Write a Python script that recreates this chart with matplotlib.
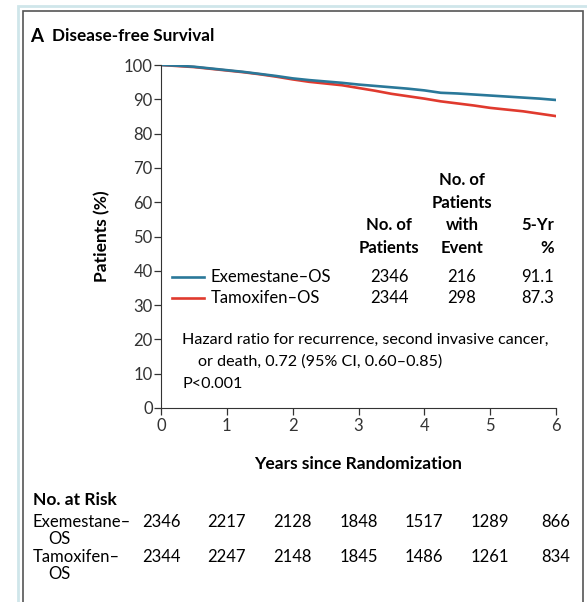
import matplotlib
matplotlib.use('Agg')
import matplotlib.pyplot as plt
from matplotlib.patches import Rectangle

# survival curves
years = [0, 0.25, 0.5, 0.75, 1.0, 1.25, 1.5, 1.75, 2.0, 2.25, 2.5, 2.75, 3.0,
         3.25, 3.5, 3.75, 4.0, 4.25, 4.5, 4.75, 5.0, 5.25, 5.5, 5.75, 6.0]
exemestane = [100, 99.8, 99.5, 99.0, 98.5, 98.0, 97.4, 96.8, 96.1, 95.6, 95.2, 94.8, 94.3,
              93.9, 93.5, 93.1, 92.6, 91.9, 91.7, 91.4, 91.1, 90.8, 90.5, 90.2, 89.8]
tamoxifen = [100, 99.7, 99.4, 98.9, 98.4, 97.9, 97.3, 96.6, 95.8, 95.1, 94.6, 94.1, 93.3,
             92.5, 91.6, 90.9, 90.2, 89.4, 88.8, 88.2, 87.5, 87.0, 86.5, 85.8, 85.1]

groups = ['Exemestane\u2013OS', 'Tamoxifen\u2013OS']
n_patients = [2346, 2344]
n_events = [216, 298]
five_yr = ['91.1', '87.3']

risk_years = [0, 1, 2, 3, 4, 5, 6]
risk_exemestane = [2346, 2217, 2128, 1848, 1517, 1289, 866]
risk_tamoxifen = [2344, 2247, 2148, 1845, 1486, 1261, 834]

plt.rcParams['font.family'] = ['Lato', 'DejaVu Sans']

W, H = 587, 602
fig = plt.figure(figsize=(W / 100, H / 100), dpi=100)


def px(x, y):
    return x / W, 1 - y / H


# outer frame of the panel
fig.patches.append(Rectangle(px(18, 604), 570 / W, 598 / H, transform=fig.transFigure,
                             fill=False, edgecolor='#cfe6ea', linewidth=2))
fig.patches.append(Rectangle(px(23, 604), 560 / W, 593 / H, transform=fig.transFigure,
                             fill=False, edgecolor='#555555', linewidth=1.2))

x0, y0 = px(161, 408)
x1, y1 = px(556, 65)
ax = fig.add_axes([x0, y0, x1 - x0, y1 - y0])

blue = '#2a7899'
red = '#e03a2e'
ax.plot(years, tamoxifen, color=red, linewidth=1.9)
ax.plot(years, exemestane, color=blue, linewidth=1.9)

ax.set_xlim(0, 6)
ax.set_ylim(0, 100)
ax.set_xticks(range(0, 7))
ax.set_yticks(range(0, 101, 10))
ax.spines['top'].set_visible(False)
ax.spines['right'].set_visible(False)
ax.spines['left'].set_color('#333333')
ax.spines['bottom'].set_color('#333333')
ax.tick_params(labelsize=12, length=5, width=0.9, direction='out', colors='#333333')
ax.tick_params(axis='x', pad=2)
ax.tick_params(axis='y', pad=1)
ax.set_ylabel('Patients (%)', fontsize=12.5, fontweight='bold', labelpad=10)
ax.set_xlabel('Years since Randomization', fontsize=12.5, fontweight='bold', labelpad=16)

fig.text(*px(30, 36), 'A', fontsize=13.5, fontweight='bold', va='center')
fig.text(*px(52, 36), 'Disease-free Survival', fontsize=12.3, fontweight='bold', va='center')

fs = 12
bold = dict(fontsize=fs, fontweight='bold', va='center')

# legend table header, one line at a time
fig.text(*px(389, 225), 'No. of', ha='center', **bold)
fig.text(*px(389, 248), 'Patients', ha='center', **bold)
for txt, yy in zip(['No. of', 'Patients', 'with', 'Event'], [180, 203, 225, 248]):
    fig.text(*px(462, yy), txt, ha='center', **bold)
fig.text(*px(554, 225), '5-Yr', ha='right', **bold)
fig.text(*px(554, 248), '%', ha='right', **bold)

row_y = [277, 298]
for i, col in enumerate([blue, red]):
    fig.add_artist(plt.Line2D([172 / W, 204 / W], [1 - row_y[i] / H] * 2, color=col,
                              linewidth=1.9, transform=fig.transFigure))
    fig.text(*px(211, row_y[i]), groups[i], va='center', fontsize=fs)
    fig.text(*px(389, row_y[i]), str(n_patients[i]), ha='center', va='center', fontsize=fs)
    fig.text(*px(462, row_y[i]), str(n_events[i]), ha='center', va='center', fontsize=fs)
    fig.text(*px(554, row_y[i]), five_yr[i], ha='right', va='center', fontsize=fs)

fig.text(*px(182, 340), 'Hazard ratio for recurrence, second invasive cancer,',
         va='center', fontsize=11.6)
fig.text(*px(198, 362), 'or death, 0.72 (95% CI, 0.60\u20130.85)', va='center', fontsize=11.6)
fig.text(*px(182, 384), 'P<0.001', va='center', fontsize=11.6)

# number at risk
fig.text(*px(33, 500), 'No. at Risk', fontsize=12.5, fontweight='bold', va='center')
labels_risk = [('Exemestane\u2013', 'OS', risk_exemestane, 522),
               ('Tamoxifen\u2013', 'OS', risk_tamoxifen, 557)]
for lab1, lab2, vals, yy in labels_risk:
    fig.text(*px(33, yy), lab1, fontsize=fs, va='center')
    fig.text(*px(48, yy + 17), lab2, fontsize=fs, va='center')
    for t, v in zip(risk_years, vals):
        xf = ax.transData.transform((t, 0))[0] / fig.bbox.width
        fig.text(xf, 1 - yy / H, str(v), ha='center', va='center', fontsize=fs)

fig.savefig('out.png', dpi=100)
